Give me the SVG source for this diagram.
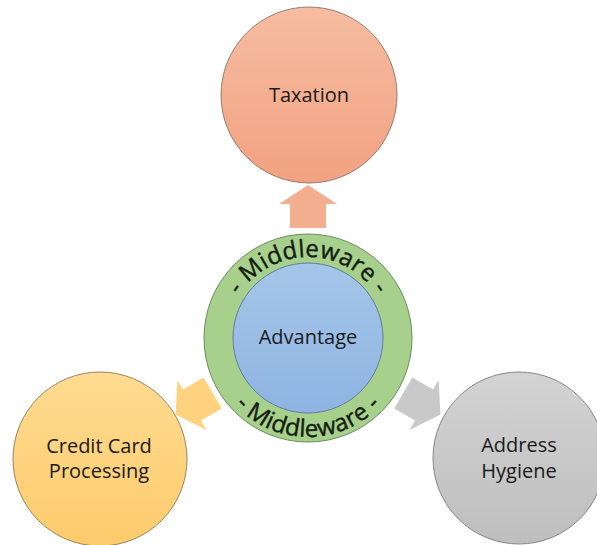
<svg xmlns="http://www.w3.org/2000/svg" width="597" height="545" viewBox="0 0 597 545">
<defs>
  <linearGradient id="gTax" x1="0" y1="0" x2="0" y2="1">
    <stop offset="0" stop-color="#F6BCA1"/>
    <stop offset="1" stop-color="#F2A282"/>
  </linearGradient>
  <linearGradient id="gCC" x1="0" y1="0" x2="0" y2="1">
    <stop offset="0" stop-color="#FFDB91"/>
    <stop offset="1" stop-color="#FDCB6C"/>
  </linearGradient>
  <linearGradient id="gAH" x1="0" y1="0" x2="0" y2="1">
    <stop offset="0" stop-color="#D3D3D3"/>
    <stop offset="1" stop-color="#BEBEBE"/>
  </linearGradient>
  <linearGradient id="gBlue" x1="0" y1="0" x2="0" y2="1">
    <stop offset="0" stop-color="#A4C6E8"/>
    <stop offset="1" stop-color="#8FB4E2"/>
  </linearGradient>
  <path id="arcTop" d="M 227 338 A 81 81 0 0 1 389 338"/>
  <path id="arcBot" d="M 209 338 A 99 99 0 0 0 407 338"/>
  <path id="arrow" d="M 110 -18 L 134 -18 L 134 -29 L 153 0 L 134 29 L 134 18 L 110 18 Z"/>
</defs>
<style>
  .lbl { font-family: "Open Sans", "Liberation Sans", sans-serif; font-size: 20px; fill: #1a1a1a; text-anchor: middle; }
  .mw { font-family: "Open Sans", "Liberation Sans", sans-serif; font-size: 24px; fill: #141c10; stroke: #141c10; stroke-width: 0.4; letter-spacing: 0.3px; }
  .ring { stroke-width: 1; }
</style>
<rect width="597" height="545" fill="#ffffff"/>
<g id="connectors">
  <use href="#arrow" transform="translate(308 338) rotate(-90)" fill="#F4AF91"/>
  <use href="#arrow" transform="translate(308 338) rotate(150)" fill="#FFD27F"/>
  <use href="#arrow" transform="translate(308 338) rotate(30)" fill="#C9C9C9"/>
</g>
<g id="taxation">
  <circle cx="309" cy="95" r="88" fill="url(#gTax)" stroke="#8a7468" stroke-width="0.9"/>
  <text class="lbl" x="309" y="102">Taxation</text>
</g>
<g id="credit-card-processing">
  <circle cx="100" cy="459" r="87" fill="url(#gCC)" stroke="#8a7a58" stroke-width="0.9"/>
  <text class="lbl" x="99" y="453">Credit Card</text>
  <text class="lbl" x="99" y="478">Processing</text>
</g>
<g id="address-hygiene">
  <circle cx="519" cy="458" r="86" fill="url(#gAH)" stroke="#7a7a7a" stroke-width="0.9"/>
  <text class="lbl" x="519" y="452">Address</text>
  <text class="lbl" x="519" y="478">Hygiene</text>
</g>
<g id="middleware-advantage">
  <circle cx="308" cy="338" r="104" fill="#A6D08C" stroke="#6C8A5C" class="ring"/>
  <circle cx="308" cy="338" r="75" fill="url(#gBlue)" stroke="#5E7D9C" class="ring"/>
  <text class="mw"><textPath href="#arcTop" startOffset="50%" text-anchor="middle">- Middleware -</textPath></text>
  <text class="mw"><textPath href="#arcBot" startOffset="50%" text-anchor="middle">- Middleware -</textPath></text>
  <text class="lbl" x="308" y="344">Advantage</text>
</g>
</svg>
